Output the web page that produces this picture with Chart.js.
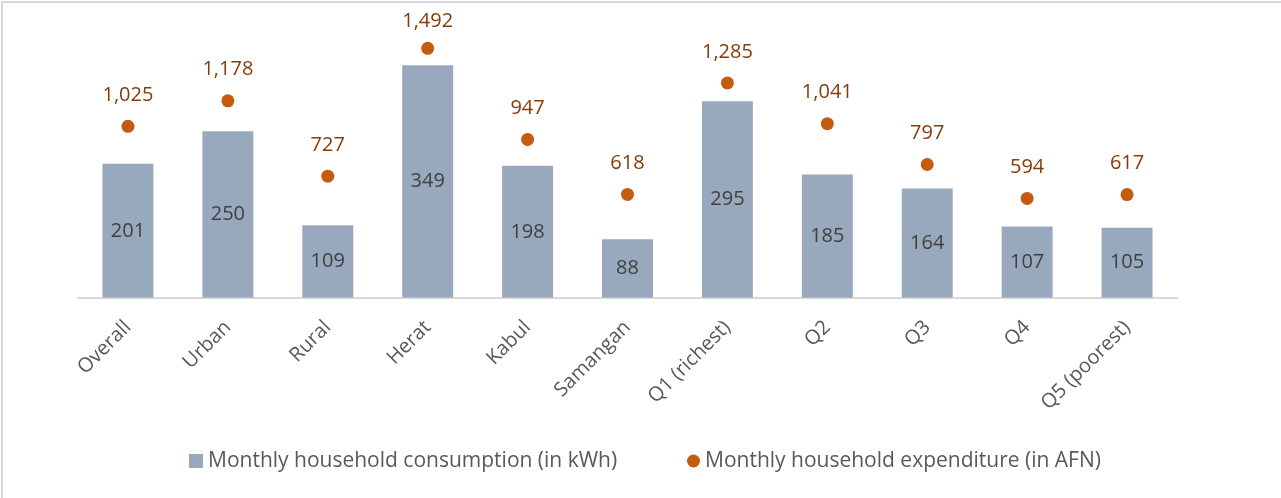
<!DOCTYPE html>
<html>
<head>
<meta charset="utf-8">
<script src="https://cdn.jsdelivr.net/npm/chart.js@4.4.1/dist/chart.umd.min.js"></script>
<style>
    html, body { margin: 0; padding: 0; background: #ffffff; }
    #caixa { position: relative; width: 1281px; height: 498px; }
    #moldura {
        position: absolute; left: 1px; top: 1px; right: 0; bottom: 0;
        border-left: 2px solid #d9d9d9; border-top: 2px solid #d9d9d9;
        pointer-events: none;
    }
</style>
</head>
<body>
<div id="caixa">
    <canvas id="grafico"></canvas>
    <div id="moldura"></div>
</div>
<script>
const categorias = ['Overall', 'Urban', 'Rural', 'Herat', 'Kabul', 'Samangan',
    'Q1 (richest)', 'Q2', 'Q3', 'Q4', 'Q5 (poorest)'];
const consumoKwh = [201, 250, 109, 349, 198, 88, 295, 185, 164, 107, 105];
const despesaAfn = [1025, 1178, 727, 1492, 947, 618, 1285, 1041, 797, 594, 617];
const legendas = ['Monthly household consumption (in kWh)', 'Monthly household expenditure (in AFN)'];

const corBarra = '#98a8bd';
const corPonto = '#c55a11';
const corRotuloPonto = '#843c0c';
const corTexto = '#595959';
const fonte = '"Open Sans", sans-serif';

// Escreve os valores: dentro das barras e acima dos pontos
const rotulosPlugin = {
    id: 'rotulos',
    afterDatasetsDraw(chart) {
        const ctx = chart.ctx;
        ctx.save();
        ctx.textAlign = 'center';
        ctx.textBaseline = 'middle';
        ctx.font = '20px ' + fonte;
        chart.getDatasetMeta(0).data.forEach((el, i) => {
            ctx.fillStyle = '#404040';
            ctx.fillText(consumoKwh[i].toLocaleString('en-US'), el.x, (el.y + el.base) / 2);
        });
        chart.getDatasetMeta(1).data.forEach((el, i) => {
            ctx.fillStyle = corRotuloPonto;
            // o rótulo não pode sair pelo topo do gráfico
            const y = Math.max(el.y - 31, 21);
            ctx.fillText(despesaAfn[i].toLocaleString('en-US'), el.x, y);
        });
        ctx.restore();
    }
};

// Legenda desenhada à mão para reproduzir o espaçamento do original
const legendaPlugin = {
    id: 'legendaManual',
    afterDraw(chart) {
        const ctx = chart.ctx;
        const y = 461;
        ctx.save();
        ctx.font = '21px ' + fonte;
        ctx.textBaseline = 'middle';
        ctx.textAlign = 'left';
        ctx.fillStyle = corBarra;
        ctx.fillRect(189, y - 7, 14, 14);
        ctx.fillStyle = corTexto;
        ctx.fillText(legendas[0], 208, y);
        ctx.fillStyle = corPonto;
        ctx.beginPath();
        ctx.arc(693.5, y, 6.5, 0, Math.PI * 2);
        ctx.fill();
        ctx.fillStyle = corTexto;
        ctx.fillText(legendas[1], 705, y);
        ctx.restore();
    }
};

window.onload = () => {
    const contexto = document.getElementById('grafico');
    new Chart(contexto, {
        type: 'bar',
        data: {
            labels: categorias,
            datasets: [
                {
                    label: legendas[0],
                    data: consumoKwh,
                    backgroundColor: corBarra,
                    yAxisID: 'y',
                    barPercentage: 0.51,
                    categoryPercentage: 1,
                    order: 2
                },
                {
                    type: 'line',
                    label: legendas[1],
                    data: despesaAfn,
                    showLine: false,
                    pointRadius: 6.5,
                    pointHoverRadius: 6.5,
                    pointBackgroundColor: corPonto,
                    pointBorderWidth: 0,
                    yAxisID: 'y2',
                    order: 1
                }
            ]
        },
        options: {
            responsive: true,
            maintainAspectRatio: false,
            animation: false,
            layout: { padding: { left: 78, right: 104, top: 10, bottom: 73 } },
            plugins: {
                legend: { display: false },
                tooltip: { enabled: false }
            },
            scales: {
                x: {
                    grid: { display: false },
                    border: { color: '#d9d9d9', width: 2 },
                    ticks: {
                        color: corTexto,
                        font: { family: fonte, size: 20 },
                        minRotation: 45,
                        maxRotation: 45,
                        padding: 10
                    }
                },
                y: { display: false, min: 0, max: 432 },
                y2: { display: false, min: 0, max: 1721 }
            }
        },
        plugins: [rotulosPlugin, legendaPlugin]
    });
};
</script>
</body>
</html>
